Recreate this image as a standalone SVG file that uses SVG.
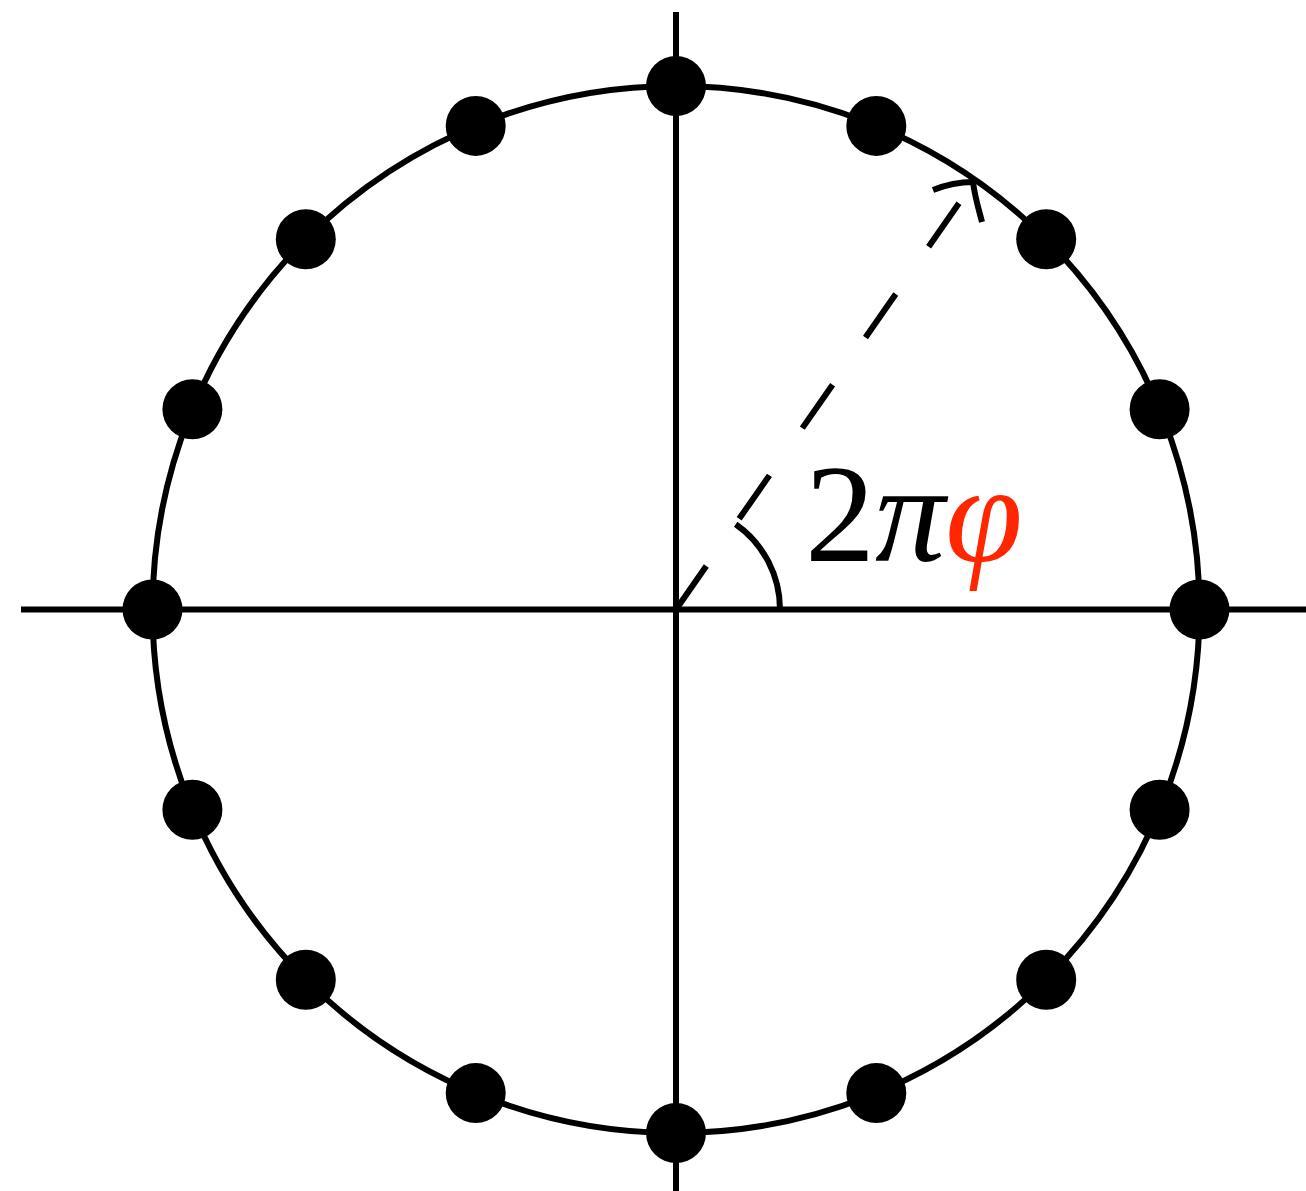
<svg xmlns="http://www.w3.org/2000/svg" width="1306" height="1191" viewBox="0 0 1306 1191">
<style>
.ln{fill:none;stroke:#000;stroke-width:6}
.dot{fill:#000}
.lbl{font-family:"Liberation Serif","Times New Roman",serif;font-size:140px;fill:#000}
</style>
<rect width="1306" height="1191" fill="#fff"/>
<g id="axes">
<line class="ln" x1="21" y1="609.5" x2="1306" y2="609.5"/>
<line class="ln" x1="676" y1="12" x2="676" y2="1191"/>
</g>
<g id="circle">
<circle class="ln" cx="676" cy="609.5" r="523.5"/>
</g>
<g id="connectors">
<line class="ln" x1="676" y1="609.5" x2="971" y2="186" stroke-dasharray="53 57.5"/>
<path class="ln" d="M933,190 C948,184 962,182 973,182 C975,198 979,210 982,222"/>
<path class="ln" d="M780,609.5 A104,104 0 0 0 735.7,524.3"/>
</g>
<g id="dots">
<circle class="dot" cx="1199.5" cy="609.5" r="30"/>
<circle class="dot" cx="1159.6" cy="409.2" r="30"/>
<circle class="dot" cx="1046.2" cy="239.3" r="30"/>
<circle class="dot" cx="876.3" cy="125.9" r="30"/>
<circle class="dot" cx="676" cy="86" r="30"/>
<circle class="dot" cx="475.7" cy="125.9" r="30"/>
<circle class="dot" cx="305.8" cy="239.3" r="30"/>
<circle class="dot" cx="192.4" cy="409.2" r="30"/>
<circle class="dot" cx="152.5" cy="609.5" r="30"/>
<circle class="dot" cx="192.4" cy="809.8" r="30"/>
<circle class="dot" cx="305.8" cy="979.7" r="30"/>
<circle class="dot" cx="475.7" cy="1093.1" r="30"/>
<circle class="dot" cx="676" cy="1133" r="30"/>
<circle class="dot" cx="876.3" cy="1093.1" r="30"/>
<circle class="dot" cx="1046.2" cy="979.7" r="30"/>
<circle class="dot" cx="1159.6" cy="809.8" r="30"/>
</g>
<g id="label">
<text class="lbl" x="805" y="561">2<tspan font-style="italic">π</tspan><tspan font-style="italic" fill="#ff2600">φ</tspan></text>
</g>
</svg>
